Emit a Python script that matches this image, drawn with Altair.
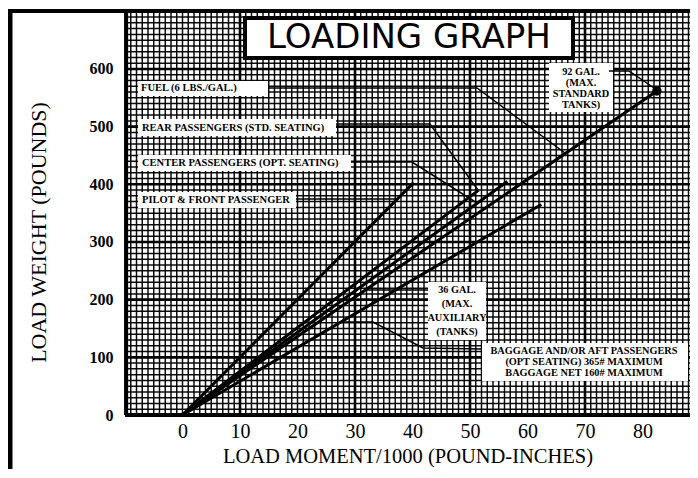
import altair as alt
import pandas as pd
import numpy as np

# ---------------- data ----------------
series = ["PILOT & FRONT PASSENGER", "REAR PASSENGERS (STD. SEATING)",
          "CENTER PASSENGERS (OPT. SEATING)", "FUEL (6 LBS./GAL.)",
          "BAGGAGE AND/OR AFT PASSENGERS"]
end_moment = [40.2, 51.5, 56.5, 82.5, 62.4]     # load moment / 1000 at line end
end_weight = [403, 390, 405, 562, 365]          # load weight (lb) at line end
x_ticks = [0, 10, 20, 30, 40, 50, 60, 70, 80]
y_ticks = [0, 100, 200, 300, 400, 500, 600]
x_major = [10, 30, 50, 70]
y_major = [100, 200, 300, 400, 500, 600]

# ---------------- layout helpers (page pixels -> data units) ----------------
X0PX, XS = 182.5, 5.75      # page x of moment 0, px per moment unit
Y0PX, YS = 415.0, 0.5767    # page y of weight 0, px per lb
def dx(px):
    return (px - X0PX) / XS
def dy(py):
    return (Y0PX - py) / YS

PLOT_L, PLOT_R, PLOT_T, PLOT_B = 125, 690, 12, 415
TOTAL_H = 461
W = PLOT_R - PLOT_L
H = PLOT_B - PLOT_T
xs = alt.Scale(domain=[dx(PLOT_L), dx(PLOT_R)], nice=False, zero=False)
ys = alt.Scale(domain=[0, dy(PLOT_T)], nice=False, zero=False)

xaxis = alt.Axis(values=x_ticks, title="LOAD MOMENT/1000 (POUND-INCHES)", grid=False,
                 domain=False, ticks=False, labelFont="Liberation Serif", labelFontSize=20,
                 labelColor="black", labelPadding=6, labelFlush=False,
                 titleFont="Liberation Serif", titleFontSize=20.5, titleFontWeight="normal",
                 titleColor="black", titleY=41, titleBaseline="middle")
yaxis = alt.Axis(values=y_ticks, title="LOAD WEIGHT (POUNDS)", grid=False, domain=False,
                 ticks=False, labelFont="Liberation Serif", labelFontSize=16,
                 labelFontWeight="bold", labelColor="black", labelPadding=12,
                 titleFont="Liberation Serif", titleFontSize=22, titleFontWeight="normal",
                 titleColor="black", titleX=-87, titleY=220, titleAngle=-90,
                 titleAlign="center", titleBaseline="middle")

def X(f):
    return alt.X(f, type="quantitative", scale=xs, axis=xaxis)
def Y(f):
    return alt.Y(f, type="quantitative", scale=ys, axis=yaxis)

# ---------------- grid ----------------
vmin = pd.DataFrame({"m": np.arange(-10, 89)})
hmin = pd.DataFrame({"w": np.arange(0, 700, 10)})
vmaj = pd.DataFrame({"m": x_major})
hmaj = pd.DataFrame({"w": y_major})

grid_v = alt.Chart(vmin).mark_rule(color="black", strokeWidth=1.5, opacity=0.95).encode(x=X("m"))
grid_h = alt.Chart(hmin).mark_rule(color="black", strokeWidth=1.5, opacity=0.95).encode(y=Y("w"))
maj_v = alt.Chart(vmaj).mark_rule(color="black", strokeWidth=2.6).encode(x=X("m"))
maj_h = alt.Chart(hmaj).mark_rule(color="black", strokeWidth=2.6).encode(y=Y("w"))
left_edge = alt.Chart(pd.DataFrame({"m": [dx(PLOT_L) + 0.2]})).mark_rule(
    color="black", strokeWidth=4).encode(x=X("m"))
base_line = alt.Chart(pd.DataFrame({"w": [0]})).mark_rule(
    color="black", strokeWidth=4).encode(y=Y("w"))

# ---------------- white label boxes ----------------
boxes_px = [(138, 81, 268, 96), (138, 119, 336, 136), (138, 155, 351, 171),
            (138, 192, 296, 208), (549, 63, 613, 112), (428, 282, 486, 340),
            (482, 343, 688, 381)]
bdf = pd.DataFrame([{"m": dx(a), "m2": dx(c), "w": dy(b), "w2": dy(d)} for a, b, c, d in boxes_px])
boxes = alt.Chart(bdf).mark_rect(color="white").encode(x=X("m"), x2="m2", y=Y("w"), y2="w2")

tb = pd.DataFrame([{"m": dx(245), "m2": dx(573), "w": dy(18), "w2": dy(58)}])
title_box = alt.Chart(tb).mark_rect(fill="white", stroke="black", strokeWidth=4).encode(
    x=X("m"), x2="m2", y=Y("w"), y2="w2")
title_txt = alt.Chart(pd.DataFrame([{"m": dx(409), "w": dy(38), "t": "LOADING GRAPH"}])).mark_text(
    font="DejaVu Sans", fontSize=34, color="black", align="center", baseline="middle").encode(
    x=X("m"), y=Y("w"), text="t:N")

# ---------------- load lines ----------------
rows = []
for s, m, w in zip(series, end_moment, end_weight):
    rows.append({"s": s, "m": 0.0, "w": 0.0, "o": 0})
    rows.append({"s": s, "m": m, "w": w, "o": 1})
ldf = pd.DataFrame(rows)
lines = alt.Chart(ldf).mark_line(color="black", strokeWidth=3).encode(
    x=X("m"), y=Y("w"), detail="s:N", order="o:Q")
fuel_dot = alt.Chart(pd.DataFrame({"m": [end_moment[3]], "w": [end_weight[3]]})).mark_point(
    filled=True, color="black", size=90, opacity=1).encode(x=X("m"), y=Y("w"))

# ---------------- leader lines ----------------
leaders_px = {
    "fuel": [(268, 88), (477, 88), (565, 153)],
    "rear": [(336, 124), (430, 124), (478, 190)],
    "center": [(351, 162), (412, 162), (477, 203)],
    "pilot": [(296, 199), (398, 199)],
    "g92": [(609, 71), (629, 71), (657, 90)],
    "g36": [(428, 290), (366, 290)],
    "bag": [(482, 349), (423, 348), (373, 322), (341, 322)],
}
lrows = []
for k, pts in leaders_px.items():
    for i, (px, py) in enumerate(pts):
        lrows.append({"k": k, "o": i, "m": dx(px), "w": dy(py)})
leaders = alt.Chart(pd.DataFrame(lrows)).mark_line(color="black", strokeWidth=1.5).encode(
    x=X("m"), y=Y("w"), detail="k:N", order="o:Q")

# ---------------- annotation texts ----------------
left_txt = [("FUEL (6 LBS./GAL.)", 141, 88), ("REAR PASSENGERS (STD. SEATING)", 142, 128),
            ("CENTER PASSENGERS (OPT. SEATING)", 142, 163), ("PILOT & FRONT PASSENGER", 142, 200)]
center_txt = [("92 GAL.", 581, 72), ("(MAX.", 581, 83), ("STANDARD", 581, 94), ("TANKS)", 581, 105),
              ("36 GAL.", 457, 290), ("(MAX.", 457, 304), ("AUXILIARY", 457, 318), ("(TANKS)", 457, 332),
              ("BAGGAGE AND/OR AFT PASSENGERS", 584, 351),
              ("(OPT SEATING) 365# MAXIMUM", 584, 362),
              ("BAGGAGE NET 160# MAXIMUM", 584, 373)]
ltdf = pd.DataFrame([{"t": t, "m": dx(a), "w": dy(b)} for t, a, b in left_txt])
ctdf = pd.DataFrame([{"t": t, "m": dx(a), "w": dy(b)} for t, a, b in center_txt])
txt_l = alt.Chart(ltdf).mark_text(font="Liberation Serif", fontWeight="bold", fontSize=10.5,
                                  color="black", align="left", baseline="middle").encode(
    x=X("m"), y=Y("w"), text="t:N")
txt_c = alt.Chart(ctdf).mark_text(font="Liberation Serif", fontWeight="bold", fontSize=10.3,
                                  color="black", align="center", baseline="middle").encode(
    x=X("m"), y=Y("w"), text="t:N")

# ---------------- outer frame ----------------
frame_top = alt.Chart(pd.DataFrame({"a": [0]})).mark_rule(color="black", strokeWidth=4).encode(
    x=alt.value(-(PLOT_L - 8) + 1), x2=alt.value(W), y=alt.value(-1))
frame_left = alt.Chart(pd.DataFrame({"a": [0]})).mark_rule(color="black", strokeWidth=5).encode(
    x=alt.value(-(PLOT_L - 8) + 2), y=alt.value(-3), y2=alt.value(TOTAL_H))

chart = alt.layer(
    grid_v, grid_h, maj_v, maj_h, boxes, leaders, lines, fuel_dot, left_edge, base_line,
    txt_l, txt_c, title_box, title_txt, frame_top, frame_left
).properties(
    width=W, height=H,
    autosize=alt.AutoSizeParams(type="none"),
    padding={"left": PLOT_L - 8, "top": PLOT_T - 8, "right": 0, "bottom": TOTAL_H - (PLOT_B - 8)},
    background="white",
).configure_view(stroke=None)

chart.save("out.html", embed_options={"renderer": "svg", "actions": False})
